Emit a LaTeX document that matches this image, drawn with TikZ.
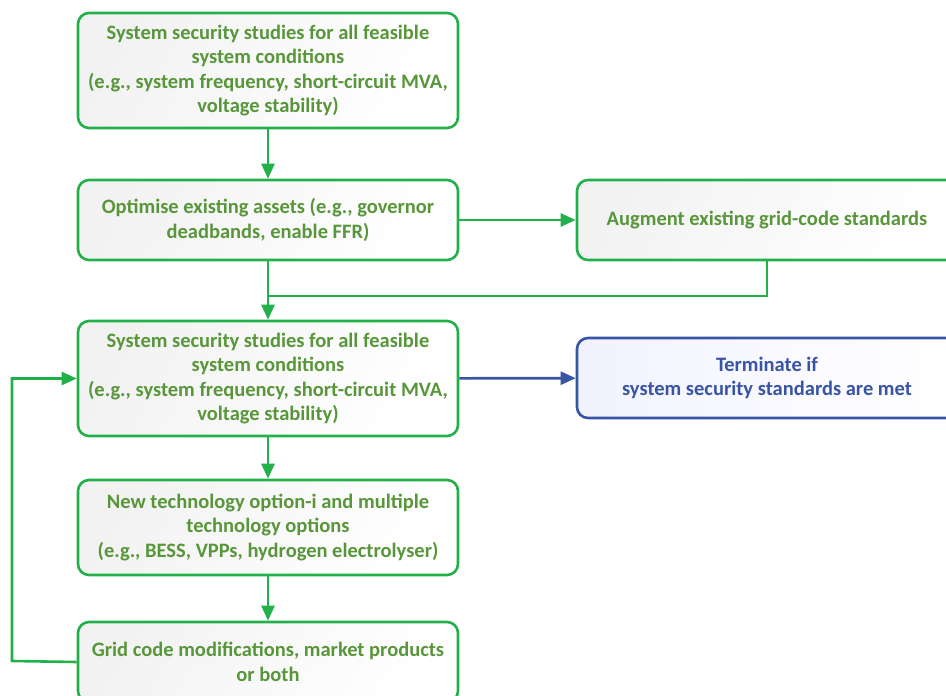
\documentclass[tikz,border=0pt]{standalone}
\usepackage{fontspec}
\setmainfont{Carlito}
\usetikzlibrary{arrows.meta,calc}
\definecolor{gline}{RGB}{34,176,75}
\definecolor{gtext}{RGB}{88,150,58}
\definecolor{bline}{RGB}{56,84,164}
\definecolor{btext}{RGB}{56,84,164}
\begin{document}
\begin{tikzpicture}[x=1pt,y=-1pt,
  box/.style={draw=gline, line width=2.6pt, rounded corners=11pt,
    left color=black!5, right color=white, shading angle=60,
    align=center, text=gtext, font=\fontsize{20.5}{24.5}\selectfont\bfseries,
    inner sep=0pt},
  bluebox/.style={box, draw=bline, text=btext, left color=blue!5},
  conn/.style={draw=gline, line width=2.6pt},
  arr/.style={conn, -{Triangle[length=15pt,width=13pt]}},
  barr/.style={arr, draw=bline},
]
\clip (0,0) rectangle (946,696);
\fill[white] (0,0) rectangle (946,696);

\node[box, minimum width=380pt, minimum height=115pt] (b1) at (268,70.5)
  {System security studies for all feasible\\system conditions\\(e.g., system frequency, short-circuit MVA,\\voltage stability)};
\node[box, minimum width=380pt, minimum height=80pt] (b2) at (268,220)
  {Optimise existing assets (e.g., governor\\deadbands, enable FFR)};
\node[box, minimum width=380pt, minimum height=80pt] (aug) at (767,220)
  {Augment existing grid-code standards};
\node[box, minimum width=380pt, minimum height=115pt] (b3) at (268,378.5)
  {System security studies for all feasible\\system conditions\\(e.g., system frequency, short-circuit MVA,\\voltage stability)};
\node[bluebox, minimum width=380pt, minimum height=80pt] (term) at (767,378)
  {Terminate if\\system security standards are met};
\node[box, minimum width=380pt, minimum height=95pt] (b4) at (268,527.5)
  {New technology option-i and multiple\\technology options\\(e.g., BESS, VPPs, hydrogen electrolyser)};
\node[box, minimum width=380pt, minimum height=80pt] (b5) at (268,662)
  {Grid code modifications, market products\\or both};

\coordinate (jn) at (268,296);
\coordinate (lft) at (12,661);

\draw[arr] (b1) -- (b2);
\draw[arr] (b2) -- (aug);
\draw[arr] (b2) -- (b3);
\draw[conn] (aug.south) |- (jn);
\draw[barr] (b3) -- (term);
\draw[arr] (b3) -- (b4);
\draw[arr] (b4) -- (b5);
\draw[arr] (b5.west) -- (lft) |- (b3.west);
\end{tikzpicture}
\end{document}
